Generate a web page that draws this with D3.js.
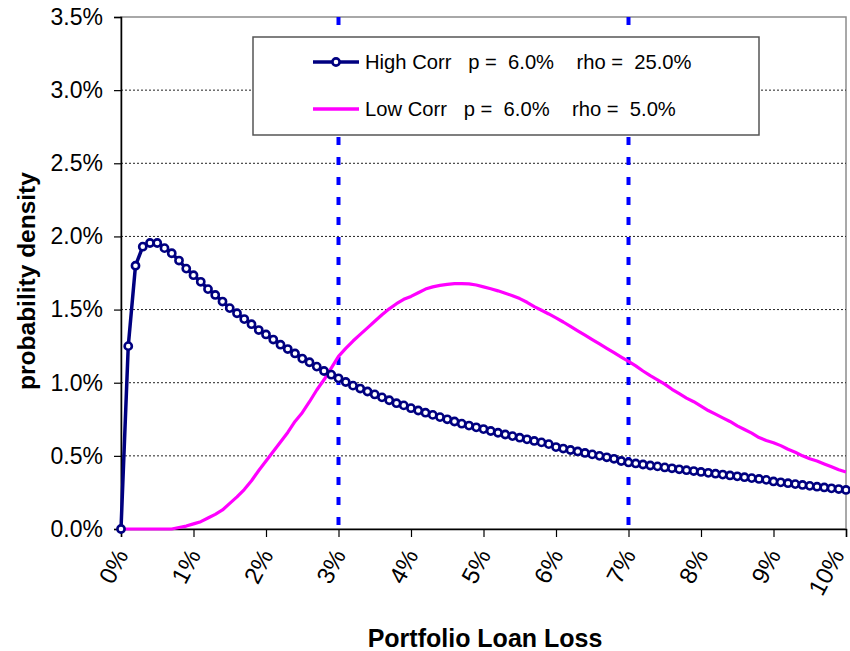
<!DOCTYPE html>
<html>
<head>
<meta charset="utf-8">
<script src="https://cdn.jsdelivr.net/npm/d3@7/dist/d3.min.js"></script>
<style>
  html, body { margin: 0; padding: 0; background: #fff; }
  svg { display: block; font-family: "Liberation Sans", Arial, sans-serif; }
</style>
</head>
<body>
<svg id="chart" width="850" height="651"></svg>
<script>
// Portfolio loan loss (%), 0.1% steps
const lossPct = d3.range(0, 101).map(i => i / 10);

// High Corr p = 6.0% rho = 25.0% (density, %)
const highCorr = [
  0.000, 1.250, 1.800, 1.930, 1.955, 1.955, 1.920, 1.885, 1.835, 1.780,
  1.735, 1.690, 1.640, 1.600, 1.555, 1.510, 1.475, 1.435, 1.400, 1.360,
  1.330, 1.295, 1.260, 1.230, 1.200, 1.165, 1.140, 1.110, 1.080, 1.055,
  1.030, 1.005, 0.980, 0.960, 0.940, 0.920, 0.900, 0.880, 0.860, 0.845,
  0.826, 0.810, 0.795, 0.780, 0.765, 0.750, 0.735, 0.720, 0.707, 0.695,
  0.683, 0.670, 0.658, 0.646, 0.635, 0.624, 0.613, 0.602, 0.592, 0.580,
  0.560, 0.550, 0.540, 0.530, 0.520, 0.510, 0.500, 0.490, 0.480, 0.465,
  0.455, 0.448, 0.441, 0.434, 0.428, 0.421, 0.415, 0.408, 0.402, 0.396,
  0.390, 0.384, 0.378, 0.372, 0.366, 0.360, 0.354, 0.348, 0.342, 0.336,
  0.325, 0.319, 0.313, 0.307, 0.301, 0.295, 0.289, 0.284, 0.278, 0.273,
  0.267
];

// Low Corr p = 6.0% rho = 5.0% (density, %)
const lowCorr = [
  0.000, 0.000, 0.000, 0.000, 0.000, 0.000, 0.000, 0.000, 0.010, 0.020,
  0.035, 0.050, 0.075, 0.100, 0.130, 0.175, 0.220, 0.270, 0.330, 0.400,
  0.465, 0.530, 0.595, 0.660, 0.735, 0.795, 0.870, 0.950, 1.020, 1.100,
  1.180, 1.235, 1.285, 1.330, 1.375, 1.420, 1.465, 1.505, 1.540, 1.570,
  1.590, 1.615, 1.640, 1.655, 1.665, 1.672, 1.677, 1.678, 1.676, 1.668,
  1.655, 1.642, 1.628, 1.612, 1.595, 1.575, 1.550, 1.520, 1.495, 1.470,
  1.443, 1.415, 1.385, 1.355, 1.325, 1.295, 1.265, 1.235, 1.205, 1.175,
  1.146, 1.115, 1.080, 1.048, 1.020, 0.990, 0.955, 0.925, 0.895, 0.870,
  0.840, 0.810, 0.785, 0.760, 0.735, 0.705, 0.680, 0.655, 0.625, 0.605,
  0.590, 0.570, 0.545, 0.525, 0.500, 0.480, 0.465, 0.445, 0.425, 0.405,
  0.390
];

const xTicks = [0, 1, 2, 3, 4, 5, 6, 7, 8, 9, 10];
const yTicks = [0, 0.5, 1.0, 1.5, 2.0, 2.5, 3.0, 3.5];
const markerLines = [3, 7];
const legendItems = [
  { label: "High Corr   p =  6.0%    rho =  25.0%", key: "high" },
  { label: "Low Corr   p =  6.0%    rho =  5.0%", key: "low" }
];

const svg = d3.select("#chart");
const L = 121, R = 846, T = 17, B = 529;
const x = d3.scaleLinear().domain([0, 10]).range([L, R]);
const y = d3.scaleLinear().domain([0, 3.5]).range([B, T]);

// plot area border (top & right grey)
svg.append("rect").attr("x", L).attr("y", T).attr("width", R - L).attr("height", B - T)
  .attr("fill", "none").attr("stroke", "#8c8c8c").attr("stroke-width", 1.5);

// gridlines
svg.append("g").selectAll("line").data(yTicks.filter(d => d > 0 && d < 3.5)).join("line")
  .attr("x1", L).attr("x2", R).attr("y1", d => y(d)).attr("y2", d => y(d))
  .attr("stroke", "#222").attr("stroke-width", 1).attr("stroke-dasharray", "2,2");

// vertical dashed markers
svg.append("g").selectAll("line").data(markerLines).join("line")
  .attr("x1", d => x(d)).attr("x2", d => x(d)).attr("y1", T).attr("y2", B)
  .attr("stroke", "#0000ff").attr("stroke-width", 4).attr("stroke-dasharray", "8,12");

// axes
const yAxis = d3.axisLeft(y).tickValues(yTicks).tickFormat(d => d3.format(".1f")(d) + "%").tickSize(7).tickPadding(11);
const gy = svg.append("g").attr("transform", `translate(${L},0)`).call(yAxis);
gy.select(".domain").attr("stroke", "#000").attr("stroke-width", 1.5);
gy.selectAll(".tick line").attr("stroke", "#000").attr("stroke-width", 1.2);
gy.selectAll("text").attr("font-size", 23).attr("fill", "#000").attr("font-family", "Liberation Sans, Arial, sans-serif");

const xAxis = d3.axisBottom(x).tickValues(xTicks).tickFormat(d => d + "%").tickSize(8);
const gx = svg.append("g").attr("transform", `translate(0,${B})`).call(xAxis);
gx.select(".domain").attr("stroke", "#000").attr("stroke-width", 1.5);
gx.selectAll(".tick line").attr("stroke", "#000").attr("stroke-width", 1.2);
gx.selectAll("text")
  .attr("font-size", 24).attr("fill", "#000").attr("font-family", "Liberation Sans, Arial, sans-serif")
  .attr("text-anchor", "end").attr("dy", "0.35em")
  .attr("transform", d => d === 10 ? "translate(-9,22) rotate(-62)" : "translate(0,22) rotate(-62)")
  .attr("y", 0).attr("x", 0);

// lines
const lineGen = d3.line().x(d => x(d[0])).y(d => y(d[1]));
const highData = lossPct.map((v, i) => [v, highCorr[i]]);
const lowData = lossPct.map((v, i) => [v, lowCorr[i]]);

svg.append("path").datum(lowData).attr("d", lineGen)
  .attr("fill", "none").attr("stroke", "#ff00ff").attr("stroke-width", 3.2).attr("stroke-linejoin", "round");

svg.append("path").datum(highData).attr("d", lineGen)
  .attr("fill", "none").attr("stroke", "#000080").attr("stroke-width", 3.5).attr("stroke-linejoin", "round");

svg.append("g").selectAll("circle").data(highData).join("circle")
  .attr("cx", d => x(d[0])).attr("cy", d => y(d[1])).attr("r", 3.6)
  .attr("fill", "#fff").attr("stroke", "#000080").attr("stroke-width", 2.6);

// axis titles
svg.append("text").attr("x", 485).attr("y", 647).attr("text-anchor", "middle")
  .attr("font-size", 25).attr("font-weight", "bold").text("Portfolio Loan Loss");
svg.append("text").attr("transform", "translate(35,281) rotate(-90)").attr("text-anchor", "middle")
  .attr("font-size", 24.5).attr("font-weight", "bold").text("probability density");

// legend
const lg = svg.append("g");
lg.append("rect").attr("x", 253).attr("y", 37).attr("width", 506).attr("height", 98)
  .attr("fill", "#fff").attr("stroke", "#555").attr("stroke-width", 1.5);
legendItems.forEach((it, i) => {
  const cy = 62 + i * 47;
  const color = it.key === "high" ? "#000080" : "#ff00ff";
  lg.append("line").attr("x1", 313).attr("x2", 359).attr("y1", cy).attr("y2", cy)
    .attr("stroke", color).attr("stroke-width", 3.5);
  if (it.key === "high") {
    lg.append("circle").attr("cx", 336).attr("cy", cy).attr("r", 3.6)
      .attr("fill", "#fff").attr("stroke", "#000080").attr("stroke-width", 2.6);
  }
  lg.append("text").attr("x", 365).attr("y", cy + 7).attr("font-size", 20.2)
    .attr("xml:space", "preserve").style("white-space", "pre").text(it.label);
});
</script>
</body>
</html>
